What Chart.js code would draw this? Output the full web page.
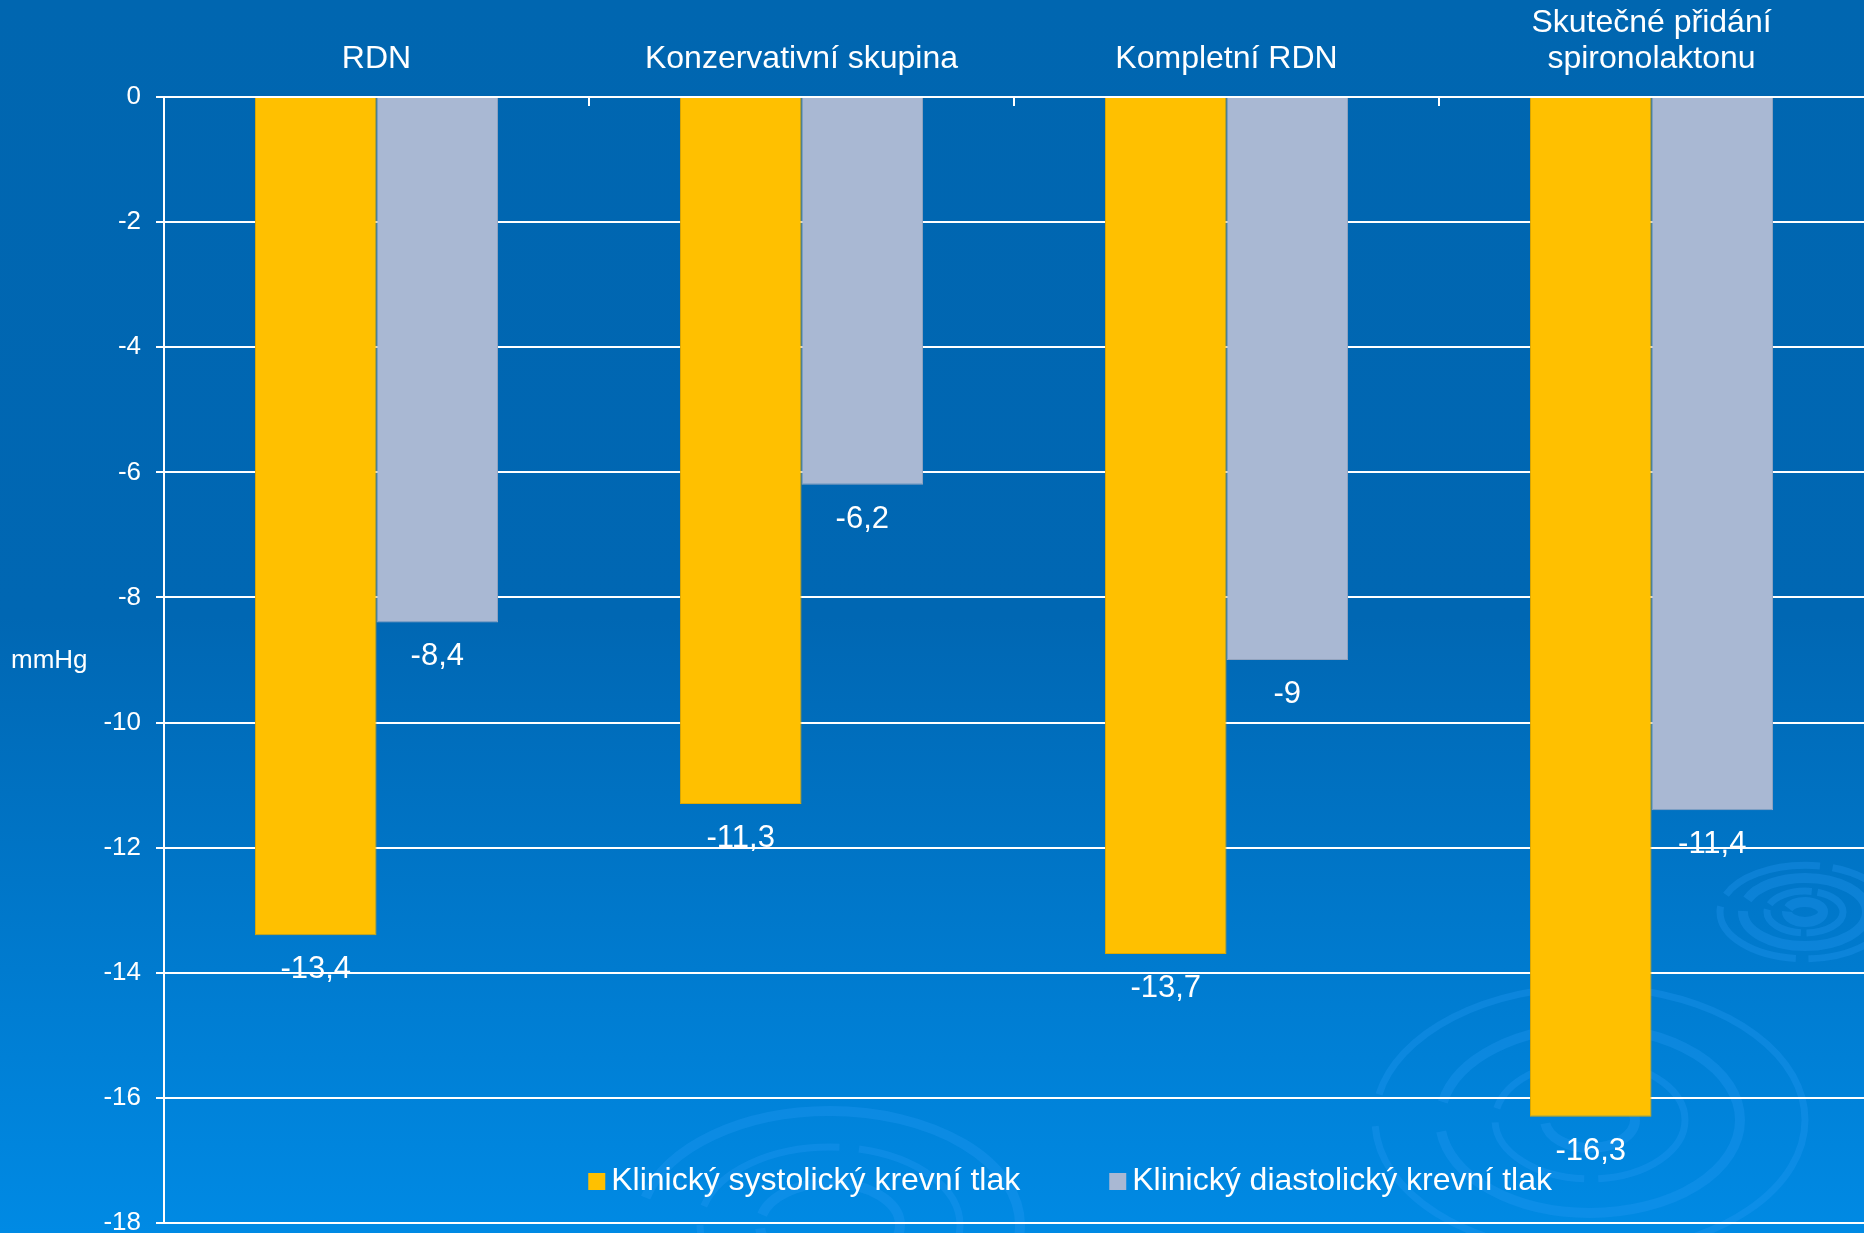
<!DOCTYPE html>
<html>
<head>
<meta charset="utf-8">
<script src="https://cdn.jsdelivr.net/npm/chart.js@4.4.1/dist/chart.umd.min.js"></script>
<style>
  html, body { margin: 0; padding: 0; background: #0066B0; overflow: hidden; }
  #wrap { width: 1864px; height: 1233px; }
  canvas { display: block; }
</style>
</head>
<body>
<div id="wrap"><canvas id="c" width="1864" height="1233"></canvas></div>
<script>
const categories = ["RDN", "Konzervativní skupina", "Kompletní RDN", ["Skutečné přidání", "spironolaktonu"]];
const seriesNames = ["Klinický systolický krevní tlak", "Klinický diastolický krevní tlak"];
const systolic = [-13.4, -11.3, -13.7, -16.3];
const diastolic = [-8.4, -6.2, -9, -11.4];
const yTicksMin = -18, yTicksMax = 0, yTicksStep = 2;
const yUnit = "mmHg";

const FONT = "'Liberation Sans', Arial, Helvetica, sans-serif";
const YELLOW = "#FFC000", GREY = "#A9B8D3";

const backgroundPlugin = {
  id: 'bg',
  beforeDraw(chart) {
    const ctx = chart.ctx, w = chart.width, h = chart.height;
    ctx.save();
    const g = ctx.createLinearGradient(0, 0, 0, h);
    g.addColorStop(0, '#0066B0');
    g.addColorStop(0.5, '#0067B3');
    g.addColorStop(1, '#008AE4');
    ctx.fillStyle = g;
    ctx.fillRect(0, 0, w, h);
    // faint decorative ripples
    const ripples = [
      {x: 1590, y: 1120, r: [45, 95, 150, 215], k: 0.62},
      {x: 830, y: 1225, r: [70, 130, 190], k: 0.6},
      {x: 1805, y: 912, r: [18, 38, 62, 85], k: 0.55}
    ];
    ctx.strokeStyle = 'rgba(40,155,245,0.30)';
    ripples.forEach(rp => {
      rp.r.forEach((r, i) => {
        ctx.lineWidth = i % 2 ? 7 : 10;
        ctx.setLineDash(i % 2 ? [r * 1.2, r * 0.15] : [r * 2.5, r * 0.2]);
        ctx.beginPath();
        ctx.ellipse(rp.x, rp.y, r, r * rp.k, 0, 0, Math.PI * 2);
        ctx.stroke();
      });
    });
    ctx.restore();
  }
};

const overlayPlugin = {
  id: 'overlay',
  afterDatasetsDraw(chart) {
    const ctx = chart.ctx;
    const xs = chart.scales.x, ca = chart.chartArea;
    ctx.save();
    // category boundary ticks (pointing down from the zero line)
    ctx.strokeStyle = '#FFFFFF';
    ctx.lineWidth = 2;
    for (let i = 1; i < categories.length; i++) {
      const x = Math.round((xs.getPixelForValue(i - 1) + xs.getPixelForValue(i)) / 2);
      ctx.beginPath();
      ctx.moveTo(x, ca.top);
      ctx.lineTo(x, ca.top + 9);
      ctx.stroke();
    }
    // value labels below bar ends
    ctx.fillStyle = '#FFFFFF';
    ctx.font = `31px ${FONT}`;
    ctx.textAlign = 'center';
    ctx.textBaseline = 'alphabetic';
    chart.data.datasets.forEach((ds, di) => {
      const meta = chart.getDatasetMeta(di);
      meta.data.forEach((bar, i) => {
        const v = ds.data[i];
        const txt = String(v).replace('.', ',');
        ctx.fillText(txt, bar.x, bar.y + 43);
      });
    });
    // y unit label (horizontal)
    ctx.font = `26px ${FONT}`;
    ctx.textAlign = 'left';
    ctx.textBaseline = 'middle';
    ctx.fillText(yUnit, 11, (ca.top + ca.bottom) / 2 + 1);
    // legend inside plot area
    ctx.font = `32px ${FONT}`;
    ctx.textBaseline = 'alphabetic';
    const box = 17, gapBox = 6, gapItem = 89;
    const items = chart.data.datasets.map(ds => ({label: ds.label, color: ds.backgroundColor, w: ctx.measureText(ds.label).width}));
    const total = items.reduce((s, it) => s + box + gapBox + it.w, 0) + gapItem * (items.length - 1);
    let x = ca.left + 0.533 * (ca.right - ca.left) - total / 2;
    const baseY = 1190;
    items.forEach(it => {
      ctx.fillStyle = it.color;
      ctx.fillRect(x, baseY - box, box, box);
      x += box + gapBox;
      ctx.fillStyle = '#FFFFFF';
      ctx.fillText(it.label, x, baseY);
      x += it.w + gapItem;
    });
    ctx.restore();
  }
};

new Chart(document.getElementById('c'), {
  type: 'bar',
  data: {
    labels: categories,
    datasets: [
      {label: seriesNames[0], data: systolic, backgroundColor: YELLOW, borderColor: '#E0A800', borderWidth: 1, categoryPercentage: 0.572, barPercentage: 1.0},
      {label: seriesNames[1], data: diastolic, backgroundColor: GREY, borderColor: '#93A4BF', borderWidth: 1, categoryPercentage: 0.572, barPercentage: 1.0}
    ]
  },
  options: {
    responsive: false,
    animation: false,
    devicePixelRatio: 1,
    layout: {padding: {left: 0, right: 0, top: 0, bottom: 10}},
    plugins: {legend: {display: false}, tooltip: {enabled: false}, title: {display: false}},
    scales: {
      x: {
        position: 'top',
        grid: {display: false},
        border: {display: false},
        ticks: {color: '#FFFFFF', font: {family: FONT, size: 32, lineHeight: 1.15}, padding: 11, maxRotation: 0, autoSkip: false},
        afterFit(scale) { scale.height = 97; scale.paddingLeft = 0; scale.paddingRight = 0; }
      },
      y: {
        min: yTicksMin, max: yTicksMax,
        grid: {color: '#FFFFFF', lineWidth: 2, tickLength: 8, tickColor: '#FFFFFF'},
        border: {display: true, color: '#FFFFFF', width: 2},
        ticks: {stepSize: yTicksStep, color: '#FFFFFF', font: {family: FONT, size: 26}, padding: 15, callback: v => String(v)},
        afterFit(scale) { scale.width = 164; scale.paddingTop = 0; scale.paddingBottom = 0; }
      }
    }
  },
  plugins: [backgroundPlugin, overlayPlugin]
});
</script>
</body>
</html>
